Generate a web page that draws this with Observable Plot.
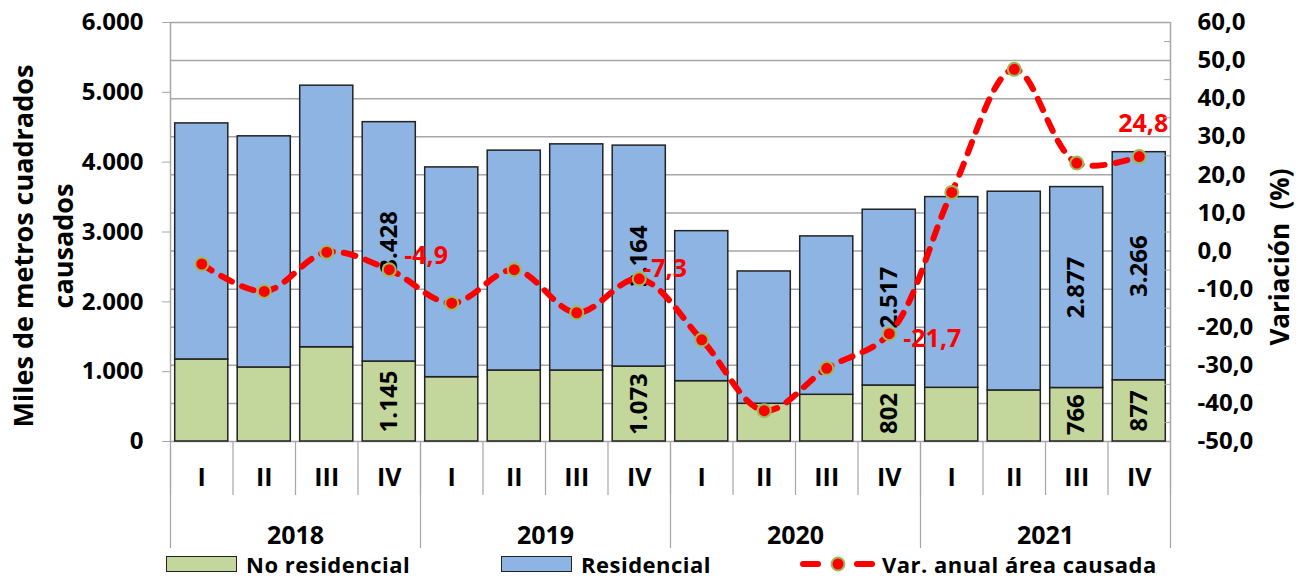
<!DOCTYPE html>
<html><head><meta charset="utf-8">
<script src="https://cdn.jsdelivr.net/npm/d3@7"></script>
<script src="https://cdn.jsdelivr.net/npm/@observablehq/plot@0.6"></script>
<style>
body{margin:0;background:#fff;font-family:"Open Sans",sans-serif;}
#wrap{position:relative;width:1305px;height:580px;overflow:hidden;}
#chart{position:absolute;left:0;top:0;width:1305px;height:553px;}
#chart svg{display:block;}
#legend{position:absolute;left:0;top:552px;width:1305px;height:24px;font-weight:700;font-size:22px;letter-spacing:0.5px;line-height:1;color:#000;}
.item{position:absolute;top:0;height:24px;display:flex;align-items:center;white-space:nowrap;line-height:1;}
.sw{width:71px;height:16px;border:1.5px solid #222;margin-right:9px;box-sizing:border-box;}
</style></head><body>
<div id="wrap"><div id="chart"></div>
<div id="legend">
 <div class="item" style="left:166px"><div class="sw" style="background:#c3d69b"></div><span>No residencial</span></div>
 <div class="item" style="left:501px"><div class="sw" style="background:#8eb4e3"></div><span>Residencial</span></div>
 <div class="item" style="left:800px"><svg width="82" height="24"><line x1="3" y1="12" x2="18" y2="12" stroke="#ff0000" stroke-width="6" stroke-linecap="round"/><line x1="57" y1="12" x2="72" y2="12" stroke="#ff0000" stroke-width="6" stroke-linecap="round"/><circle cx="38" cy="12" r="6.5" fill="#ff0000" stroke="#9bbb59" stroke-width="2"/></svg><span>Var. anual área causada</span></div>
</div></div>
<script>
const years = ["2018","2019","2020","2021"];
const quarters = ["I","II","III","IV"];
const noResidencial = [1175,1060,1350,1145, 921,1017,1017,1073, 864,540,669,802, 769,731,766,877];
const residencial  = [3380,3310,3745,3428, 3004,3148,3238,3164, 2148,1895,2268,2517, 2731,2846,2877,3266];
const variacion    = [-3.4,-10.6,-0.3,-4.9, -13.7,-4.9,-16.2,-7.3, -23.3,-41.9,-30.8,-21.7, 15.4,47.7,23.1,24.8];
const barLabelIdx  = [3,7,11,14,15];
const leftTicks    = [0,1000,2000,3000,4000,5000,6000];
const rightTicks   = [-50,-40,-30,-20,-10,0,10,20,30,40,50,60];

const yMax = 6000, rMin = -50, rMax = 60;
const toY = v => (v - rMin) / (rMax - rMin) * yMax;
const fromY = y => y / yMax * (rMax - rMin) + rMin;
const fmtThousands = v => d3.format(",")(v).replace(/,/g, ".");
const fmtDec = v => d3.format(".1f")(v).replace(".", ",").replace("\u2212", "-");

const rows = noResidencial.map((n, i) => ({
  i, q: quarters[i % 4], year: years[Math.floor(i / 4)],
  noRes: n, res: residencial[i], v: variacion[i], show: barLabelIdx.includes(i)
}));
const minorTicks = rightTicks.slice(0, -1).map(t => t + 5);
const grey = "#a6a6a6";
const FS = 24;
const CFS = 25;

const chart = Plot.plot({
  width: 1305, height: 553,
  marginLeft: 170, marginRight: 135, marginTop: 22, marginBottom: 112,
  x: {type: "linear", domain: [0, 16], axis: null},
  y: {domain: [0, yMax], axis: null},
  style: {fontFamily: "'Open Sans', sans-serif", fontSize: FS + "px", fontWeight: 700, color: "#000", background: "#fff", overflow: "visible"},
  marks: [
    Plot.ruleY(rightTicks.map(toY), {stroke: grey, strokeWidth: 1.5}),
    Plot.ruleX([0, 16], {stroke: grey, strokeWidth: 1.5}),
    Plot.rectY(rows, {x1: d => d.i, x2: d => d.i + 1, y1: 0, y2: "noRes", insetLeft: 4.7, insetRight: 4.7,
      fill: "#c3d69b", stroke: "#222", strokeWidth: 1.5}),
    Plot.rectY(rows, {x1: d => d.i, x2: d => d.i + 1, y1: "noRes", y2: d => d.noRes + d.res, insetLeft: 4.7, insetRight: 4.7,
      fill: "#8eb4e3", stroke: "#222", strokeWidth: 1.5}),
    Plot.text(rows.filter(d => d.show), {x: d => d.i + 0.5, y: d => d.noRes / 2, text: d => fmtThousands(d.noRes),
      rotate: -90, fontSize: 24, fontWeight: 700, fill: "#000"}),
    Plot.text(rows.filter(d => d.show), {x: d => d.i + 0.5, y: d => d.noRes + d.res / 2, text: d => fmtThousands(d.res),
      rotate: -90, fontSize: 24, fontWeight: 700, fill: "#000"}),
    Plot.line(rows, {x: d => d.i + 0.5, y: d => toY(d.v), curve: "catmull-rom", stroke: "#ff0000", strokeWidth: 6,
      strokeDasharray: "12,11", strokeLinecap: "round"}),
    Plot.dot(rows, {x: d => d.i + 0.5, y: d => toY(d.v), r: 6.5, fill: "#ff0000", stroke: "#9bbb59", strokeWidth: 2}),
    Plot.text(rows.filter(d => d.i === 3), {x: d => d.i + 0.5, y: d => toY(d.v), text: d => fmtDec(d.v), textAnchor: "start", dx: 15, dy: -14, fill: "#ff0000", fontSize: 25, fontWeight: 700}),
    Plot.text(rows.filter(d => d.i === 7), {x: d => d.i + 0.5, y: d => toY(d.v), text: d => fmtDec(d.v), textAnchor: "start", dx: 4, dy: -10, fill: "#ff0000", fontSize: 25, fontWeight: 700}),
    Plot.text(rows.filter(d => d.i === 11), {x: d => d.i + 0.5, y: d => toY(d.v), text: d => fmtDec(d.v), textAnchor: "start", dx: 14, dy: 5, fill: "#ff0000", fontSize: 25, fontWeight: 700}),
    Plot.text(rows.filter(d => d.i === 15), {x: d => d.i + 0.5, y: d => toY(d.v), text: d => fmtDec(d.v), textAnchor: "middle", dx: 4, dy: -33, fill: "#ff0000", fontSize: 25, fontWeight: 700}),
    // left axis
    Plot.axisY({anchor: "left", ticks: leftTicks, tickSize: 8, tickPadding: 19, tickFormat: fmtThousands, stroke: grey, fill: "#000", label: null, fontSize: FS}),
    // right axis
    Plot.axisY({anchor: "right", ticks: rightTicks.map(toY), tickSize: 0, tickPadding: 27, tickFormat: y => fmtDec(Math.round(fromY(y))), fill: "#000", label: null, fontSize: FS}),
    Plot.axisY({anchor: "right", ticks: minorTicks.map(toY), tickSize: -7, tickFormat: () => "", stroke: grey, label: null}),
    // category axis
    Plot.axisX({anchor: "bottom", ticks: d3.range(0, 17), tickSize: 54, tickFormat: () => "", stroke: grey, strokeWidth: 1.2, label: null}),
    Plot.axisX({anchor: "bottom", ticks: [0, 4, 8, 12, 16], tickSize: 107, tickFormat: () => "", stroke: grey, strokeWidth: 1.2, label: null}),
    Plot.axisX({anchor: "bottom", ticks: d3.range(16).map(i => i + 0.5), tickSize: 0, tickPadding: 27, tickFormat: t => quarters[Math.floor(t) % 4], fill: "#000", label: null, fontSize: CFS}),
    Plot.axisX({anchor: "bottom", ticks: [2, 6, 10, 14], tickSize: 0, tickPadding: 85, tickFormat: t => years[(t - 2) / 4], fill: "#000", label: null, fontSize: CFS}),
    // axis titles
    Plot.text(["Miles de metros cuadrados\ncausados"], {frameAnchor: "left", textAnchor: "middle", dx: -130, dy: 14, rotate: -90, lineHeight: 1.45, fontSize: 27, fontWeight: 700, fill: "#000"}),
    Plot.text(["Variación  (%)"], {frameAnchor: "right", textAnchor: "middle", dx: 110, dy: 25, rotate: -90, fontSize: 26, fontWeight: 700, fill: "#000"})
  ]
});
document.getElementById("chart").appendChild(chart);
</script>
</body></html>
